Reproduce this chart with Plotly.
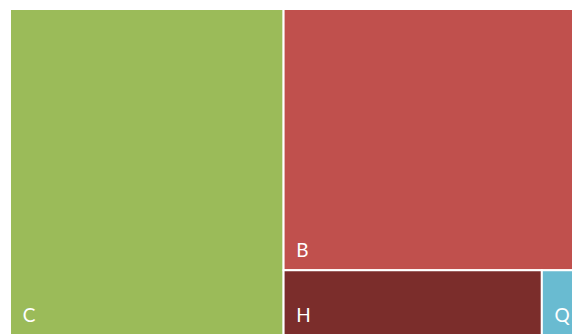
import plotly.graph_objects as go

labels = ["C", "B", "H", "Q"]
values = [89000, 75690, 16705, 2080]
colors = ["#9BBB59", "#C0504D", "#7B2D2B", "#69BBD1"]

fig = go.Figure(go.Treemap(
    labels=labels,
    parents=[""] * len(labels),
    values=values,
    sort=True,
    marker=dict(colors=colors, line=dict(color="white", width=2),
                pad=dict(t=0, l=0, r=0, b=0)),
    textposition="bottom left",
    texttemplate="<span style='font-size:19px'>&nbsp;&nbsp;%{label}</span><br>&nbsp;",
    textfont=dict(family="Lato", size=7, color="white"),
    tiling=dict(packing="squarify", pad=0),
    pathbar=dict(visible=False),
    hoverinfo="label+value",
))
fig.update_layout(
    width=574, height=335,
    margin=dict(l=10, r=0, t=9, b=0),
    paper_bgcolor="white",
    uniformtext=dict(minsize=7, mode="show"),
)
fig.write_html(
    "out.html",
    config={"displayModeBar": False},
    post_script="document.documentElement.style.overflow='hidden';"
                "document.body.style.margin='0';document.body.style.overflow='hidden';",
)
